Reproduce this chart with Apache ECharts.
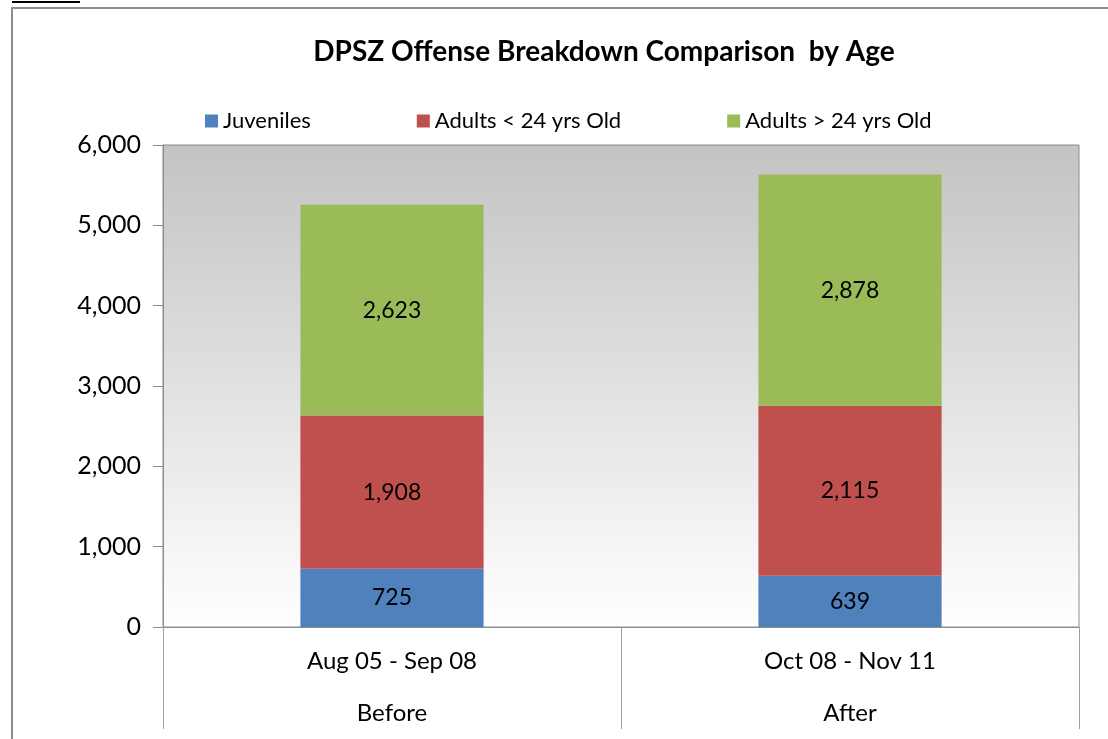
<!DOCTYPE html>
<html>
<head>
<meta charset="utf-8">
<script src="https://cdn.jsdelivr.net/npm/echarts@6/dist/echarts.min.js"></script>
<style>
  html, body { margin: 0; padding: 0; background: #fff; }
  #main { width: 1108px; height: 739px; }
</style>
</head>
<body>
<div id="main"></div>
<script>
const periods = ['Aug 05 - Sep 08', 'Oct 08 - Nov 11']
const groups = ['Before', 'After']
const juveniles = [725, 639]
const adultsUnder24 = [1908, 2115]
const adultsOver24 = [2623, 2878]
const seriesNames = ['Juveniles', 'Adults < 24 yrs Old', 'Adults > 24 yrs Old']
const colors = ['#4F81BD', '#C0504D', '#9BBB59']

const myChart = echarts.init(document.querySelector('#main'))
const font = 'Lato, "Open Sans", sans-serif'

function makeSeries(name, data, color) {
  return {
    name: name,
    type: 'bar',
    stack: 'total',
    data: data,
    barWidth: '40%',
    itemStyle: { color: color },
    label: {
      show: true,
      position: 'inside',
      color: '#000',
      fontSize: 23,
      fontFamily: font,
      formatter: p => p.value.toLocaleString('en-US')
    }
  }
}

const option = {
  backgroundColor: '#fff',
  title: {
    text: 'DPSZ Offense Breakdown Comparison  by Age',
    left: 599,
    textAlign: 'center',
    top: 33,
    textStyle: { fontSize: 28, fontWeight: 'bold', color: '#000', fontFamily: font }
  },
  legend: {
    data: seriesNames,
    left: 200,
    top: 105,
    itemWidth: 13,
    itemHeight: 13,
    itemGap: 106,
    icon: 'rect',
    textStyle: { fontSize: 22, color: '#000', fontFamily: font }
  },
  grid: {
    left: 163,
    right: 29,
    top: 145,
    bottom: 111,
    show: true,
    borderColor: '#8c8c8c',
    borderWidth: 1,
    backgroundColor: new echarts.graphic.LinearGradient(0, 0, 0, 1, [
      { offset: 0, color: '#c3c3c3' },
      { offset: 1, color: '#ffffff' }
    ])
  },
  xAxis: {
    type: 'category',
    data: periods.map((p, i) => p + '\n' + groups[i]),
    axisLine: { lineStyle: { color: '#8c8c8c' } },
    axisTick: {
      show: true,
      interval: 0,
      length: 102,
      lineStyle: { color: '#a0a0a0' }
    },
    axisLabel: {
      color: '#000',
      fontSize: 24,
      fontFamily: font,
      lineHeight: 52,
      margin: 8
    }
  },
  yAxis: {
    type: 'value',
    min: 0,
    max: 6000,
    interval: 1000,
    axisLine: { show: true, lineStyle: { color: '#8c8c8c' } },
    axisTick: { show: true, length: 10, lineStyle: { color: '#8c8c8c' } },
    splitLine: { show: false },
    axisLabel: {
      color: '#000',
      fontSize: 25,
      fontFamily: font,
      margin: 22,
      formatter: v => v.toLocaleString('en-US')
    }
  },
  graphic: [
    {
      type: 'rect',
      shape: { x: 12, y: 8, width: 1200, height: 800 },
      style: { fill: null, stroke: '#8c8c8c', lineWidth: 2 },
      z: -1
    },
    {
      type: 'line',
      shape: { x1: 12, y1: 2, x2: 80, y2: 2 },
      style: { stroke: '#000', lineWidth: 2 }
    }
  ],
  series: [
    makeSeries(seriesNames[0], juveniles, colors[0]),
    makeSeries(seriesNames[1], adultsUnder24, colors[1]),
    makeSeries(seriesNames[2], adultsOver24, colors[2])
  ]
}

option && myChart.setOption(option)
</script>
</body>
</html>
